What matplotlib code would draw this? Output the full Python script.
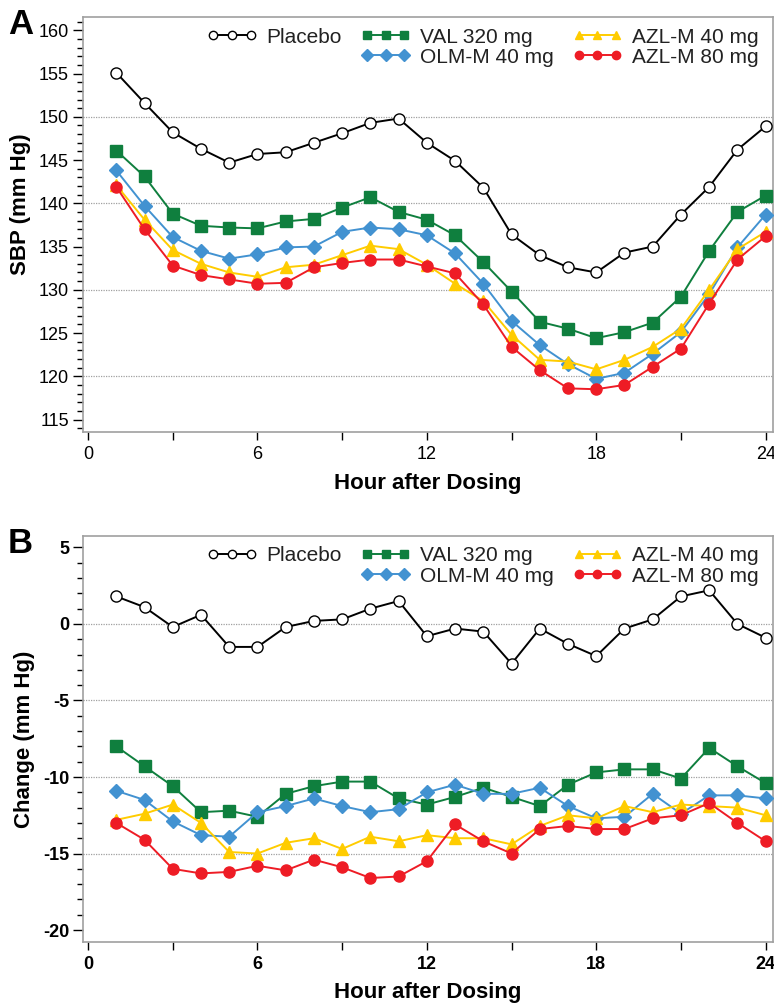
import matplotlib
matplotlib.use("Agg")
import matplotlib.pyplot as plt
from matplotlib.lines import Line2D
from matplotlib.ticker import MultipleLocator

plt.rcParams['font.family'] = ['Liberation Sans', 'DejaVu Sans']
plt.rcParams['axes.unicode_minus'] = False

# hours after dosing
hours = list(range(1, 25))

# panel A: mean SBP (mm Hg)
sbp_placebo = [155.1, 151.6, 148.2, 146.3, 144.7, 145.7, 145.9, 147.0, 148.1, 149.3, 149.8, 147.0,
               144.9, 141.8, 136.4, 134.0, 132.6, 132.0, 134.3, 135.0, 138.7, 141.9, 146.2, 148.9]
sbp_val = [146.1, 143.1, 138.8, 137.4, 137.2, 137.1, 137.9, 138.2, 139.5, 140.7, 139.0, 138.1,
           136.3, 133.2, 129.8, 126.3, 125.5, 124.4, 125.1, 126.2, 129.2, 134.5, 139.0, 140.9]
sbp_olm = [143.8, 139.7, 136.1, 134.5, 133.6, 134.1, 134.9, 135.0, 136.7, 137.2, 137.0, 136.3,
           134.2, 130.7, 126.4, 123.6, 121.4, 119.7, 120.4, 122.6, 125.1, 129.5, 134.9, 138.7]
sbp_azl40 = [142.1, 138.1, 134.6, 133.0, 132.0, 131.5, 132.6, 132.9, 134.0, 135.1, 134.7, 132.9,
             130.7, 128.7, 124.8, 121.9, 121.7, 120.8, 121.9, 123.4, 125.5, 130.0, 134.7, 136.7]
sbp_azl80 = [141.9, 137.0, 132.8, 131.7, 131.2, 130.7, 130.8, 132.6, 133.1, 133.5, 133.5, 132.7,
             131.9, 128.3, 123.4, 120.7, 118.6, 118.5, 119.0, 121.1, 123.2, 128.4, 133.5, 136.2]

# panel B: change from baseline (mm Hg)
chg_placebo = [1.8, 1.1, -0.2, 0.6, -1.5, -1.5, -0.2, 0.2, 0.3, 1.0, 1.5, -0.8,
               -0.3, -0.5, -2.6, -0.3, -1.3, -2.1, -0.3, 0.3, 1.8, 2.2, 0.0, -0.9]
chg_val = [-8.0, -9.3, -10.6, -12.3, -12.2, -12.6, -11.1, -10.6, -10.3, -10.3, -11.4, -11.8,
           -11.3, -10.7, -11.3, -11.9, -10.5, -9.7, -9.5, -9.5, -10.1, -8.1, -9.3, -10.4]
chg_olm = [-10.9, -11.5, -12.9, -13.8, -13.9, -12.3, -11.9, -11.4, -11.9, -12.3, -12.1, -11.0,
           -10.5, -11.1, -11.1, -10.7, -11.9, -12.7, -12.6, -11.1, -12.4, -11.2, -11.2, -11.4]
chg_azl40 = [-12.8, -12.4, -11.8, -13.0, -14.9, -15.0, -14.3, -14.0, -14.7, -13.9, -14.2, -13.8,
             -14.0, -14.0, -14.4, -13.2, -12.5, -12.7, -11.9, -12.3, -11.8, -11.9, -12.0, -12.5]
chg_azl80 = [-13.0, -14.1, -16.0, -16.3, -16.2, -15.8, -16.1, -15.4, -15.9, -16.6, -16.5, -15.5,
             -13.1, -14.2, -15.0, -13.4, -13.2, -13.4, -13.4, -12.7, -12.5, -11.7, -13.0, -14.2]

labels = ["Placebo", "VAL 320 mg", "OLM-M 40 mg", "AZL-M 40 mg", "AZL-M 80 mg"]
colors = ["black", "#0f7f3e", "#4292d1", "#ffcc00", "#ee1c25"]
markers = ["o", "s", "D", "^", "o"]
msizes = [8, 8, 7.5, 8.5, 8]

fig = plt.figure(figsize=(7.74, 10.05), dpi=100)
axA = fig.add_axes([0.1072, 0.5701, 0.8915, 0.4129])
axB = fig.add_axes([0.1072, 0.0627, 0.8915, 0.4040])


def draw(ax, series, ylim, grid_vals, bold):
    handles = []
    for i, ys in enumerate(series):
        face = "white" if i == 0 else colors[i]
        edge = "black" if i == 0 else colors[i]
        h, = ax.plot(hours, ys, color=colors[i], marker=markers[i], markersize=msizes[i],
                     markerfacecolor=face, markeredgecolor=edge, markeredgewidth=1.0,
                     linewidth=1.4, label=labels[i], zorder=3 + i)
        handles.append(h)
    for g in grid_vals:
        ax.axhline(g, color="#a0a0a0", linestyle=(0, (1, 1)), linewidth=0.9, zorder=1)
    ax.set_xlim(-0.18, 24.26)
    ax.set_ylim(*ylim)
    ax.xaxis.set_major_locator(MultipleLocator(6))
    ax.xaxis.set_minor_locator(MultipleLocator(3))
    ax.yaxis.set_major_locator(MultipleLocator(5))
    ax.yaxis.set_minor_locator(MultipleLocator(1))
    for s in ax.spines.values():
        s.set_color("#a0a0a0")
        s.set_linewidth(1.2)
    ax.tick_params(axis="x", which="both", direction="out", length=6, width=1, pad=4,
                   labelsize=13, color="black")
    ax.tick_params(axis="y", which="major", direction="out", length=7, width=1, pad=3,
                   labelsize=13, color="black")
    ax.tick_params(axis="y", which="minor", direction="out", length=4, width=1, color="black")
    if bold:
        for t in ax.get_xticklabels() + ax.get_yticklabels():
            t.set_fontweight("bold")
    ax.set_xlabel("Hour after Dosing", fontsize=16, fontweight="bold")
    ax.xaxis.set_label_coords(0.5, -0.098)

    # legend: 3 columns, blank slot under Placebo
    blank = Line2D([], [], linestyle="none", marker="none")
    order = [handles[0], blank, handles[1], handles[2], handles[3], handles[4]]
    names = [labels[0], "", labels[1], labels[2], labels[3], labels[4]]
    ax.legend(order, names, ncol=3, loc="upper right", bbox_to_anchor=(1.0, 1.01),
              frameon=False, fontsize=15, numpoints=3, handlelength=2.4,
              handletextpad=0.45, columnspacing=0.9, labelspacing=0.05, markerscale=0.75,
              borderaxespad=0.3, labelcolor="#222222")


draw(axA, [sbp_placebo, sbp_val, sbp_olm, sbp_azl40, sbp_azl80], (113.55, 161.53),
     [120, 130, 140, 150], bold=False)
axA.set_ylabel("SBP (mm Hg)", fontsize=16, fontweight="bold")
axA.yaxis.set_label_coords(-0.075, 0.55)

draw(axB, [chg_placebo, chg_val, chg_olm, chg_azl40, chg_azl80], (-20.78, 5.75),
     [0, -5, -10, -15], bold=True)
axB.set_ylabel("Change (mm Hg)", fontsize=16, fontweight="bold")
axB.yaxis.set_label_coords(-0.07, 0.5)

fig.text(0.010, 0.992, "A", fontsize=25, fontweight="bold", va="top", ha="left")
fig.text(0.010, 0.476, "B", fontsize=25, fontweight="bold", va="top", ha="left")

fig.savefig("out.png", dpi=100)
